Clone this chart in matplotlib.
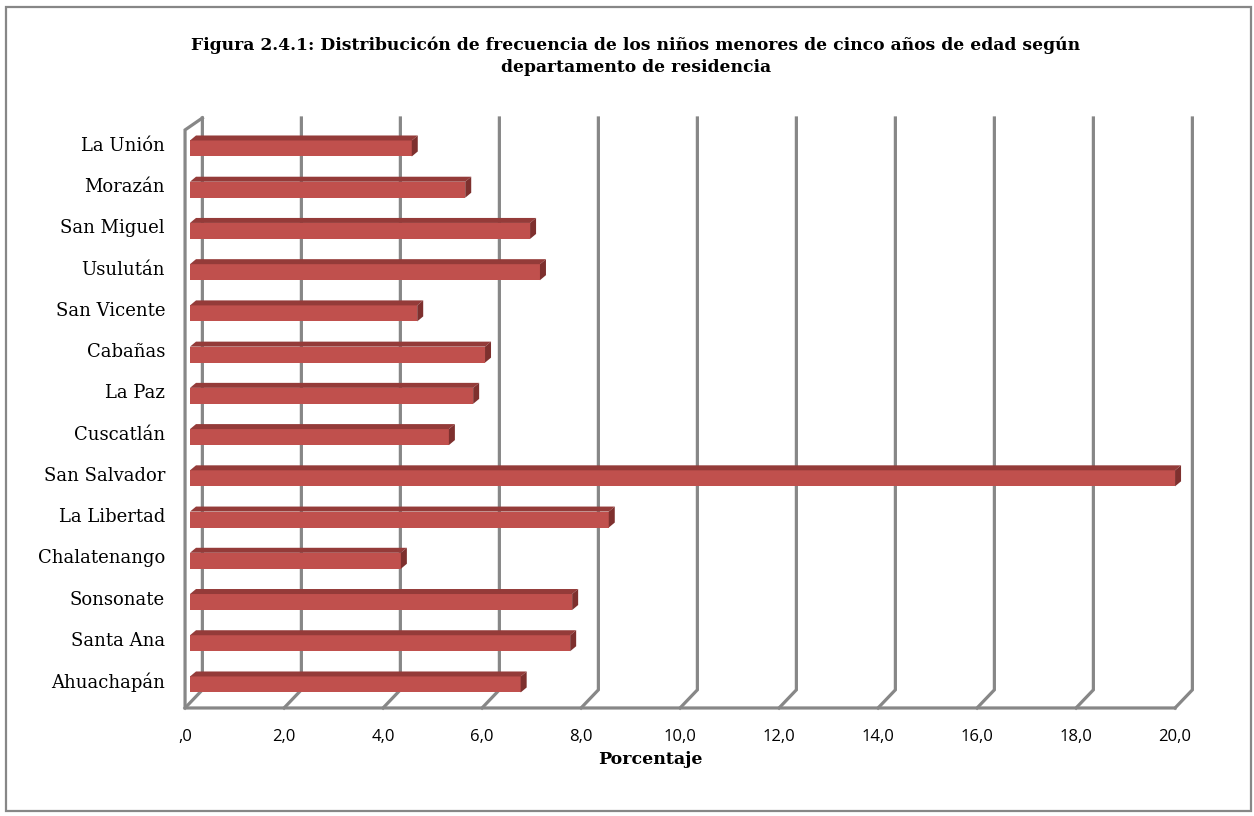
import matplotlib
matplotlib.use("Agg")
import matplotlib.pyplot as plt
from matplotlib.patches import Polygon, Rectangle
import numpy as np

# Data, bottom to top
departamentos = ["Ahuachapán", "Santa Ana", "Sonsonate", "Chalatenango", "La Libertad",
                 "San Salvador", "Cuscatlán", "La Paz", "Cabañas", "San Vicente",
                 "Usulután", "San Miguel", "Morazán", "La Unión"]
porcentaje = [6.68, 7.68, 7.72, 4.26, 8.46, 19.9, 5.23, 5.72, 5.96, 4.59,
              7.07, 6.87, 5.56, 4.48]
ticks = np.arange(0, 21, 2)
tick_labels = [",0"] + [f"{t:.1f}".replace(".", ",") for t in ticks[1:]]

titulo = ("Figura 2.4.1: Distribucicón de frecuencia de los niños menores de cinco años de edad según\n"
          "departamento de residencia")

# colours
c_face = "#C0504D"
c_top = "#943B39"
c_side = "#7E302E"
c_grid = "#878787"

# pixel -> data mapping (axes fill the figure)
W, H = 1254, 816
x0px, sx = 190, 49.5
y0px, sy = 682, 41.23

fig = plt.figure(figsize=(W / 100, H / 100), dpi=100)
ax = fig.add_axes([0, 0, 1, 1])
ax.set_xlim((0 - x0px) / sx, (W - x0px) / sx)
ax.set_ylim((y0px - H) / sy, y0px / sy)
ax.axis("off")

# outer frame
ax.add_patch(Rectangle((6 / W, 1 - 811 / H), 1245 / W, 804 / H, transform=ax.transAxes,
                       fill=False, edgecolor=c_grid, lw=1.6))

# 3D geometry (data units)
front_dx, back_dx = -0.1, 0.25
floor_front, floor_back = -0.63, -0.19
wall_top_back, wall_top_front = 13.68, 13.39
lw_grid = 2.3

# back wall gridlines with slanted floor ticks
for t in ticks[1:]:
    ax.plot([t + back_dx, t + back_dx, t + front_dx],
            [wall_top_back, floor_back, floor_front], color=c_grid, lw=lw_grid,
            solid_joinstyle="miter", zorder=1)
# left wall
ax.plot([back_dx, back_dx, front_dx], [wall_top_back, floor_back, floor_front],
        color=c_grid, lw=lw_grid, zorder=1)
ax.plot([back_dx, front_dx, front_dx, 20 + front_dx],
        [wall_top_back, wall_top_front, floor_front, floor_front],
        color=c_grid, lw=lw_grid, solid_joinstyle="miter", zorder=1)

# bars with a simple 3D look
y = np.arange(len(departamentos))
h = 16 / sy
off = -0.06
ddx, ddy = 6 / sx, 5 / sy
ax.barh(y + off, porcentaje, height=h, left=0, color=c_face, zorder=3)
for yi, v in zip(y + off, porcentaje):
    ytop, ybot = yi + h / 2, yi - h / 2
    ax.add_patch(Polygon([(0, ytop), (v, ytop), (v + ddx, ytop + ddy), (ddx, ytop + ddy)],
                         closed=True, facecolor=c_top, edgecolor="none", zorder=3))
    ax.add_patch(Polygon([(v, ytop), (v + ddx, ytop + ddy), (v + ddx, ybot + ddy), (v, ybot)],
                         closed=True, facecolor=c_side, edgecolor="none", zorder=3))

# category labels
for yi, name in zip(y, departamentos):
    ax.text((165 - x0px) / sx, yi, name, ha="right", va="center",
            fontsize=13, family="DejaVu Serif")

# x tick labels
for t, lab in zip(ticks, tick_labels):
    ax.text(t + front_dx, (y0px - 737) / sy, lab, ha="center", va="center",
            fontsize=12, family="Open Sans")

ax.text((650 - x0px) / sx, (y0px - 760) / sy, "Porcentaje", ha="center", va="center",
        fontsize=12.5, fontweight="bold", family="DejaVu Serif")

ax.text((636 - x0px) / sx, (y0px - 56) / sy, titulo, ha="center", va="center",
        fontsize=12.3, fontweight="bold", family="DejaVu Serif", linespacing=1.4)

fig.savefig("out.png", dpi=100)
